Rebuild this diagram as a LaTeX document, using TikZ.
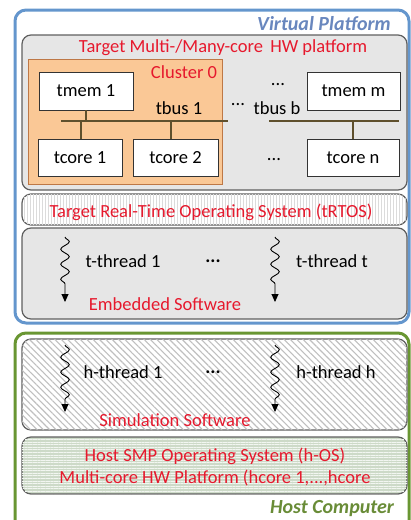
\documentclass[tikz,border=0pt]{standalone}
\usepackage{fontspec}
\setmainfont{Carlito}
\usetikzlibrary{patterns.meta,decorations.pathmorphing,arrows.meta}
\definecolor{vpblue}{RGB}{100,150,205}
\definecolor{vptext}{RGB}{105,135,190}
\definecolor{hcgreen}{RGB}{105,150,50}
\definecolor{hctext}{RGB}{105,140,55}
\definecolor{redtxt}{RGB}{230,25,45}
\definecolor{boxgray}{RGB}{230,230,230}
\definecolor{edgegray}{RGB}{95,95,95}
\definecolor{clorange}{RGB}{250,200,150}
\definecolor{cledge}{RGB}{190,120,70}
\definecolor{busc}{RGB}{95,80,45}
\definecolor{hosfill}{RGB}{205,218,200}
\tikzset{
  layer/.style={draw=edgegray, line width=1.2pt, rounded corners=9pt, minimum width=385pt, inner sep=0pt},
  wbox/.style={draw=black!80, fill=white, line width=0.8pt, inner sep=0pt, font=\fontsize{18.5}{22}\selectfont},
  lbl/.style={font=\fontsize{18.5}{22}\selectfont, inner sep=0pt},
  rlbl/.style={lbl, text=redtxt},
  bus/.style={draw=busc, line width=1.3pt},
  thr/.style={line width=0.9pt, decorate, decoration={snake, amplitude=4.3pt, segment length=15pt, post length=12pt}, -{Triangle[width=7pt,length=8pt]}},
  ttl/.style={font=\fontsize{20}{24}\selectfont\bfseries\itshape, inner sep=0pt}
}
\begin{document}
\begin{tikzpicture}[x=1pt,y=-1pt]
\useasboundingbox (0,0) rectangle (411,520);
% outer frames
\node[draw=vpblue, line width=3pt, rounded corners=11pt, minimum width=394pt, minimum height=313pt, inner sep=0pt] (vp) at (212,166.5) {};
\node[draw=hcgreen, line width=3pt, rounded corners=11pt, minimum width=394pt, minimum height=200pt, inner sep=0pt] (hc) at (212,433) {};
\node[ttl, text=vptext] (vpt) at (324,24) {Virtual Platform};
\node[ttl, text=hctext] (hct) at (332,509) {Host Computer};
% HW platform
\node[layer, fill=boxgray, minimum height=155pt] (hw) at (214.5,112.5) {};
\node[rlbl] (hwt) at (223,48) {Target Multi-/Many-core\, HW platform};
\node[draw=cledge, fill=clorange, line width=0.8pt, minimum width=194pt, minimum height=125pt, inner sep=0pt] (cl) at (125,121.5) {};
\node[rlbl] (clt) at (184,72) {Cluster 0};
\node[wbox, minimum width=94pt, minimum height=38pt] (tmem1) at (86,91) {tmem 1};
\node[wbox, minimum width=84pt, minimum height=37pt] (tcore1) at (80,157.5) {tcore 1};
\node[wbox, minimum width=85pt, minimum height=37pt] (tcore2) at (175.5,157.5) {tcore 2};
\node[wbox, minimum width=93pt, minimum height=38pt] (tmemm) at (353.5,91) {tmem m};
\node[wbox, minimum width=92pt, minimum height=37pt] (tcoren) at (353,157.5) {tcore n};
\node[lbl] (tb1) at (179,108) {tbus 1};
\node[lbl] (dotsa) at (278,85) {...};
\node[lbl] (dotsb) at (238,105) {...};
\node[lbl] (tbb) at (277,108) {tbus b};
\node[lbl] (dotsc) at (274,160) {...};
\coordinate (b1l) at (61,121);
\coordinate (b1r) at (228,121);
\coordinate (b2l) at (269,121);
\coordinate (b2r) at (399,121);
\draw[bus] (b1l) -- (b1r);
\draw[bus] (b2l) -- (b2r);
\draw[bus] (tmem1.south) -- (tmem1.south |- b1l);
\draw[bus] ([xshift=1pt]tcore1.north) -- ([xshift=1pt]tcore1.north |- b1l);
\draw[bus] ([xshift=-4.5pt]tcore2.north) -- ([xshift=-4.5pt]tcore2.north |- b1l);
\draw[bus] (tcoren.north) -- (tcoren.north |- b2l);
% tRTOS
\node[layer, fill=white, minimum height=31pt,
  postaction={pattern={Lines[angle=90,distance=3pt,line width=0.9pt]}, pattern color=black!14}] (rtos) at (214.5,209.5) {};
\node[rlbl] (rtost) at (211,212) {Target Real-Time Operating System (tRTOS)};
% embedded software
\node[layer, fill=boxgray, minimum height=91pt] (emb) at (214.5,273.5) {};
\coordinate (ta1) at (65,237); \coordinate (tb1e) at (65,302);
\coordinate (ta2) at (275,237); \coordinate (tb2e) at (275,302);
\draw[thr] (ta1) -- (tb1e);
\draw[thr] (ta2) -- (tb2e);
\node[lbl] (tt1) at (123,261) {t-thread 1};
\node[lbl, font=\fontsize{19}{22}\selectfont\bfseries] (tdots) at (213,261) {...};
\node[lbl] (ttt) at (332,261) {t-thread t};
\node[rlbl] (embt) at (165,304) {Embedded Software};
% simulation software
\node[layer, fill=white, minimum height=91pt,
  postaction={pattern={Lines[angle=-45,distance=4.5pt,line width=1.1pt]}, pattern color=black!25}] (sim) at (214.5,384.5) {};
\coordinate (ha1) at (65,345); \coordinate (hb1e) at (65,412);
\coordinate (ha2) at (275,345); \coordinate (hb2e) at (275,412);
\draw[thr] (ha1) -- (hb1e);
\draw[thr] (ha2) -- (hb2e);
\node[lbl] (ht1) at (123,372) {h-thread 1};
\node[lbl, font=\fontsize{19}{22}\selectfont\bfseries] (hdots) at (213,372) {...};
\node[lbl] (hth) at (336,372) {h-thread h};
\node[rlbl] (simt) at (175,420) {Simulation Software};
% host OS
\node[layer, fill=hosfill, minimum height=57pt,
  postaction={pattern={Lines[angle=0,distance=2.6pt,line width=0.9pt]}, pattern color=white!75!hosfill}] (hos) at (214.5,465.5) {};
\node[rlbl] (host1) at (215,456) {Host SMP Operating System (h-OS)};
\node[rlbl] (host2) at (215,478) {Multi-core HW Platform (hcore 1,...,hcore};
\end{tikzpicture}
\end{document}
